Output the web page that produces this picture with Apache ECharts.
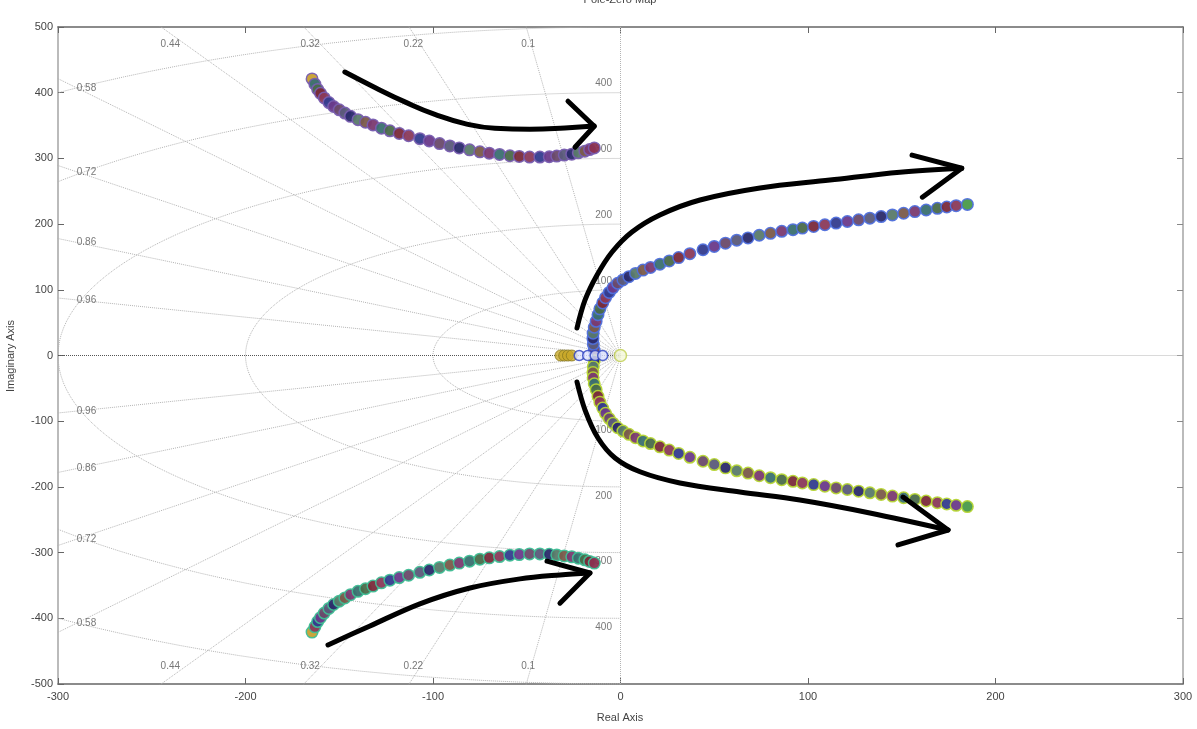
<!DOCTYPE html>
<html><head><meta charset="utf-8">
<script src="https://cdn.jsdelivr.net/npm/echarts@6/dist/echarts.min.js"></script>
<style>html,body{margin:0;padding:0;background:#fff}#c{width:1197px;height:729px}</style>
</head><body><div id="c"></div>
<script>
// ---- data ----
const xRange = [-300, 300];
const yRange = [-500, 500];
const zetaValues = [0.1, 0.22, 0.32, 0.44, 0.58, 0.72, 0.86, 0.96];
const wnValues = [100, 200, 300, 400, 500];
const wnLabelValues = [100, 200, 300, 400];

const upperLeftBranch = [[-164.5,421],[-163,413],[-161.5,405],[-160,399],[-158,392],[-155.5,385],[-153,379],[-150,374],[-147,369],[-144,364],[-140,359],[-136,355],[-132,351],[-127.5,346],[-123,342],[-118,338],[-113,334.5],[-107,330],[-102,326.5],[-96.5,322.5],[-91,319],[-86,316],[-80.5,313],[-75,310],[-70,308],[-64.5,306],[-59,304],[-54,303],[-48.5,302],[-43,302],[-38,302.5],[-34,303.5],[-30,305],[-26,306.5],[-22.5,308.5],[-19,311],[-16.5,313.5],[-14,316]];
const lowerLeftBranch = [[-164.5,-421],[-163,-413],[-161.5,-405],[-160,-399],[-158,-392],[-155.5,-385],[-153,-379],[-150,-374],[-147,-369],[-144,-364],[-140,-359],[-136,-355],[-132,-351],[-127.5,-346],[-123,-342],[-118,-338],[-113,-334.5],[-107,-330],[-102,-326.5],[-96.5,-322.5],[-91,-319],[-86,-316],[-80.5,-313],[-75,-310],[-70,-308],[-64.5,-306],[-59,-304],[-54,-303],[-48.5,-302],[-43,-302],[-38,-302.5],[-34,-303.5],[-30,-305],[-26,-306.5],[-22.5,-308.5],[-19,-311],[-16.5,-313.5],[-14,-316]];
const upperRightBranch = [[-13.6,0],[-14,8],[-14.5,17],[-14.7,26],[-14.6,34],[-14,43],[-13,52],[-12,62],[-11,71],[-9.5,80],[-8,88],[-6,96],[-4,103],[-1.5,110],[1.3,115],[4.5,120],[8,125],[12,130],[16,134],[21,139],[26,144],[31,149],[37,155],[44,161],[50,166],[56,171],[62,175.5],[68,179],[74,183],[80,186],[86,189],[92,191.5],[97,194],[103,196.5],[109,199],[115,201.5],[121,204],[127,206.5],[133,209],[139,211.5],[145,214],[151,216.5],[157,219],[163,221.5],[169,224],[174,226],[179,228],[185,230]];
const lowerRightBranch = [[-14,-8],[-14.5,-17],[-14.7,-26],[-14.6,-34],[-14,-43],[-13,-52],[-12,-62],[-11,-71],[-9.5,-80],[-8,-88],[-6,-96],[-4,-103],[-1.5,-110],[1.3,-115],[4.5,-120],[8,-125],[12,-130],[16,-134],[21,-139],[26,-144],[31,-149],[37,-155],[44,-161],[50,-166],[56,-171],[62,-175.5],[68,-179],[74,-183],[80,-186],[86,-189],[92,-191.5],[97,-194],[103,-196.5],[109,-199],[115,-201.5],[121,-204],[127,-206.5],[133,-209],[139,-211.5],[145,-214],[151,-216.5],[157,-219],[163,-221.5],[169,-224],[174,-226],[179,-228],[185,-230]];
const realAxisPolesYellow = [[-32,0],[-30,0],[-28,0],[-26,0]];
const realAxisPolesBlue = [[-22,0],[-17.5,0],[-13.5,0],[-9.5,0]];
const originPole = [[0,0]];

// hand-drawn arrows (data coordinates)
const arrowTopLeft = [[-147,431.5],[-131,408],[-115,386],[-99,367],[-83,353],[-67,346],[-48.3,344.5],[-29.6,346.3],[-14,349.3]];
const arrowTopLeftHead = [[-28,387],[-14,349],[-24.3,317]];
const arrowBottomLeft = [[-156,-440.5],[-133.6,-411.6],[-107,-378],[-80.3,-353.9],[-53.6,-340],[-32.3,-334],[-16.3,-331]];
const arrowBottomLeftHead = [[-39.2,-313],[-16.3,-331],[-32.3,-377]];
const arrowUpperRight = [[-23.2,41.9],[-18.9,84.5],[-12.5,122.5],[-4.5,157.5],[6.1,188],[21,213.9],[42.4,236.7],[74.4,255],[111.7,267],[149,279],[182,285]];
const arrowUpperRightHead = [[155.5,305],[182,285],[161,241]];
const arrowLowerRight = [[-23.2,-40.3],[-18.9,-83],[-12,-125.6],[-2.9,-156],[10.4,-177],[31.7,-194],[63.7,-207.8],[95.7,-220],[133,-239.7],[174.7,-265.6]];
const arrowLowerRightHead = [[150.7,-215.5],[174.7,-265.6],[148,-288.4]];

// ---- styles ----
const FONT = '"Liberation Sans Narrow","Liberation Sans",Arial,sans-serif';
const gridColor = '#b4b4b4';
const palette = ['#7a3a70','#343c8e','#5a7a6a','#7a2a3a','#5a5a7a','#3a7070','#6a3a8a','#7a5a4a','#8a3a5a','#2a2a6a','#4a6a4a','#6a4a6a'];
const edgePalette = ['#4a4a4a','#6a2a6a','#2a3a7a','#5a5a5a','#3a6a4a','#7a3a3a'];

const series = [];
function gridLine(data, color, z) {
  series.push({type:'line', data, symbol:'none', silent:true, animation:false, z:z||1,
    lineStyle:{color:color||gridColor, width:1, type:'dotted'}});
}
// natural frequency semicircles (left half plane)
wnValues.forEach(wn => {
  const pts = [];
  for (let a = 90; a <= 270; a += 2) {
    const t = a * Math.PI / 180;
    pts.push([wn * Math.cos(t), wn * Math.sin(t)]);
  }
  gridLine(pts);
});
// damping rays
zetaValues.forEach(z => {
  const s = Math.sqrt(1 - z*z), R = 800;
  gridLine([[0,0],[-R*z, R*s]]);
  gridLine([[0,0],[-R*z, -R*s]]);
});
gridLine([[0,yRange[0]],[0,yRange[1]]]);
gridLine([[0,0],[xRange[1],0]]);
gridLine([[xRange[0],0],[0,0]], '#555', 2);

// grid labels
const labelData = [];
zetaValues.forEach(z => {
  const s = Math.sqrt(1 - z*z);
  const yAtLeft = 290 * s / z;
  ['up','down'].forEach(dir => {
    const sg = dir === 'up' ? 1 : -1;
    if (yAtLeft <= 490) {
      labelData.push({value:[-290, sg*yAtLeft], label:{formatter:String(z), align:'left', verticalAlign:'middle', offset:[0,0]}});
    } else {
      labelData.push({value:[-490*z/s, sg*490], label:{formatter:String(z), align:'center', verticalAlign:'middle', offset:[0, sg*11]}});
    }
  });
});
wnLabelValues.forEach(wn => {
  labelData.push({value:[-9, wn], label:{formatter:String(wn), align:'center', verticalAlign:'middle', offset:[0,-9]}});
  labelData.push({value:[-9, -wn], label:{formatter:String(wn), align:'center', verticalAlign:'middle', offset:[0,9]}});
});
series.push({type:'scatter', data:labelData, symbolSize:0, silent:true, animation:false, z:2,
  label:{show:true, color:'#555', fontSize:10, fontFamily:FONT}});

// locus markers
function locus(data, offset, firstColor, lastColor) {
  series.push({type:'scatter', data, symbol:'circle', symbolSize:11.5, animation:false, z:5,
    itemStyle:{
      color: p => (p.dataIndex === 0 && firstColor) ? firstColor :
                  (p.dataIndex === data.length-1 && lastColor) ? lastColor :
                  palette[(p.dataIndex*5 + offset) % palette.length],
      borderColor: p => edgePalette[(p.dataIndex*2 + offset) % edgePalette.length],
      borderWidth: 1.5, opacity: 0.95
    }});
}
locus(upperLeftBranch, 0, '#c8a030', '#8a3050');
locus(lowerLeftBranch, 3, '#c8a030', '#8a3050');
locus(upperRightBranch, 6, null, '#4a9a4a');
locus(lowerRightBranch, 9, null, '#4a9a4a');
series.push({type:'scatter', data:realAxisPolesYellow, symbolSize:11, animation:false, z:6,
  itemStyle:{color:'#c8a828', borderColor:'#8a7a20', borderWidth:1}});
series.push({type:'scatter', data:realAxisPolesBlue, symbolSize:10, animation:false, z:6,
  itemStyle:{color:'#dde2ff', borderColor:'#2a40c0', borderWidth:1.5}});
series.push({type:'scatter', data:originPole, symbolSize:12, animation:false, z:6,
  itemStyle:{color:'#f4f8d8', borderColor:'#c0d050', borderWidth:1.5}});

// arrows
function arrow(path, head, sm) {
  series.push({type:'line', data:path, smooth:sm, symbol:'none', silent:true, animation:false, z:8,
    lineStyle:{color:'#000', width:5, cap:'round', join:'round'}});
  series.push({type:'line', data:head, symbol:'none', silent:true, animation:false, z:8,
    lineStyle:{color:'#000', width:5, cap:'round', join:'round'}});
}
arrow(arrowTopLeft, arrowTopLeftHead, 0.5);
arrow(arrowBottomLeft, arrowBottomLeftHead, 0.35);
arrow(arrowUpperRight, arrowUpperRightHead, 0.35);
arrow(arrowLowerRight, arrowLowerRightHead, 0.35);

const axisLabel = {color:'#444', fontSize:11, fontFamily:FONT};
const chart = echarts.init(document.getElementById('c'), null, {renderer:'canvas'});
chart.setOption({
  backgroundColor:'#fff',
  animation:false,
  grid:{left:58, right:14, top:27, bottom:45},
  xAxis:[
    {type:'value', min:xRange[0], max:xRange[1], interval:100, position:'bottom',
     axisLine:{onZero:false, lineStyle:{color:'#666', width:1.5}},
     axisTick:{inside:true, length:6, lineStyle:{color:'#666'}},
     axisLabel:Object.assign({margin:7}, axisLabel), splitLine:{show:false}},
    {type:'value', min:xRange[0], max:xRange[1], interval:100, position:'top',
     axisLine:{onZero:false, lineStyle:{color:'#666', width:1.5}},
     axisTick:{inside:true, length:6, lineStyle:{color:'#666'}},
     axisLabel:{show:false}, splitLine:{show:false}}
  ],
  yAxis:[
    {type:'value', min:yRange[0], max:yRange[1], interval:100, position:'left',
     axisLine:{onZero:false, lineStyle:{color:'#bbb', width:2}},
     axisTick:{inside:true, length:6, lineStyle:{color:'#666'}},
     axisLabel:Object.assign({margin:5}, axisLabel), splitLine:{show:false}},
    {type:'value', min:yRange[0], max:yRange[1], interval:100, position:'right',
     axisLine:{onZero:false, lineStyle:{color:'#bbb', width:2}},
     axisTick:{inside:true, length:6, lineStyle:{color:'#888'}},
     axisLabel:{show:false}, splitLine:{show:false}}
  ],
  graphic:[
    {type:'text', x:620, y:-6, style:{text:'Pole-Zero Map', textAlign:'center', fill:'#444', fontSize:11, fontFamily:FONT}},
    {type:'text', x:620, y:712, style:{text:'Real Axis', textAlign:'center', fill:'#444', fontSize:11, fontFamily:FONT}},
    {type:'text', x:11, y:356, rotation:Math.PI/2, style:{text:'Imaginary Axis', textAlign:'center', textVerticalAlign:'middle', fill:'#444', fontSize:11, fontFamily:FONT}}
  ],
  series
});
</script></body></html>
